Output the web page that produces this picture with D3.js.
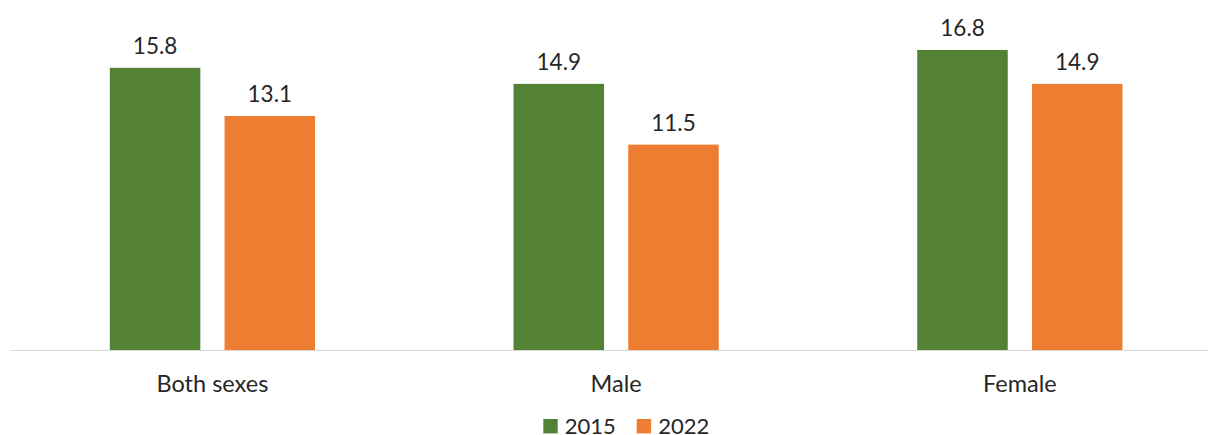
<!DOCTYPE html>
<html>
<head>
<meta charset="utf-8">
<script src="https://cdn.jsdelivr.net/npm/d3@7"></script>
<style>
  html, body { margin: 0; padding: 0; background: #fff; }
  svg { display: block; font-family: Lato, "Open Sans", sans-serif; }
</style>
</head>
<body>
<div id="chart"></div>
<script>
(function() {
    var width = 1208,
        height = 435;

    // data
    var categories = ["Both sexes", "Male", "Female"];
    var series = ["2015", "2022"];
    var values2015 = [15.8, 14.9, 16.8];
    var values2022 = [13.1, 11.5, 14.9];
    var colors = ["#548235", "#ED7D31"];

    var rows = categories.map(function(c, i) {
        return { cat: c, vals: [values2015[i], values2022[i]] };
    });

    var svg = d3.select("#chart")
        .append("svg")
        .attr("width", width)
        .attr("height", height);

    var x0 = d3.scaleBand()
        .domain(categories)
        .range([10.6, 1221.7])
        .paddingInner(0.4917)
        .paddingOuter(0.2458);

    var x1 = d3.scaleBand()
        .domain(series)
        .range([0, x0.bandwidth()])
        .paddingInner(0.211)
        .paddingOuter(0);

    var y = d3.scaleLinear()
        .domain([0, 18])
        .range([350, 28.5]);

    var color = d3.scaleOrdinal().domain(series).range(colors);

    var groups = svg.selectAll(".grp")
        .data(rows)
        .enter().append("g")
        .attr("class", "grp")
        .attr("transform", function(d) { return "translate(" + x0(d.cat) + ",0)"; });

    var bars = groups.selectAll("rect")
        .data(function(d) { return d.vals.map(function(v, i) { return { s: series[i], v: v }; }); })
        .enter();

    bars.append("rect")
        .attr("x", function(d) { return x1(d.s); })
        .attr("y", function(d) { return y(d.v); })
        .attr("width", x1.bandwidth())
        .attr("height", function(d) { return y(0) - y(d.v); })
        .attr("fill", function(d) { return color(d.s); });

    bars.append("text")
        .attr("x", function(d) { return x1(d.s) + x1.bandwidth() / 2; })
        .attr("y", function(d) { return y(d.v) - 14; })
        .attr("text-anchor", "middle")
        .attr("font-size", 22.5)
        .attr("fill", "#262626")
        .text(function(d) { return d3.format(".1f")(d.v); });

    // baseline
    svg.append("line")
        .attr("x1", x0.range()[0])
        .attr("x2", x0.range()[1])
        .attr("y1", y(0) + 0.5)
        .attr("y2", y(0) + 0.5)
        .attr("stroke", "#d9d9d9")
        .attr("stroke-width", 1);

    // category labels
    svg.selectAll(".cat")
        .data(categories)
        .enter().append("text")
        .attr("class", "cat")
        .attr("x", function(d) { return x0(d) + x0.bandwidth() / 2; })
        .attr("y", 392)
        .attr("text-anchor", "middle")
        .attr("font-size", 23.5)
        .attr("fill", "#262626")
        .text(function(d) { return d; });

    // legend
    var legendX = [543.3, 636.7];
    var legend = svg.selectAll(".leg")
        .data(series)
        .enter().append("g")
        .attr("class", "leg")
        .attr("transform", function(d, i) { return "translate(" + legendX[i] + ",419)"; });

    legend.append("rect")
        .attr("width", 14.4)
        .attr("height", 14.4)
        .attr("fill", function(d) { return color(d); });

    legend.append("text")
        .attr("x", 21.5)
        .attr("y", 14.5)
        .attr("font-size", 22)
        .attr("fill", "#262626")
        .text(function(d) { return d; });
})();
</script>
</body>
</html>
